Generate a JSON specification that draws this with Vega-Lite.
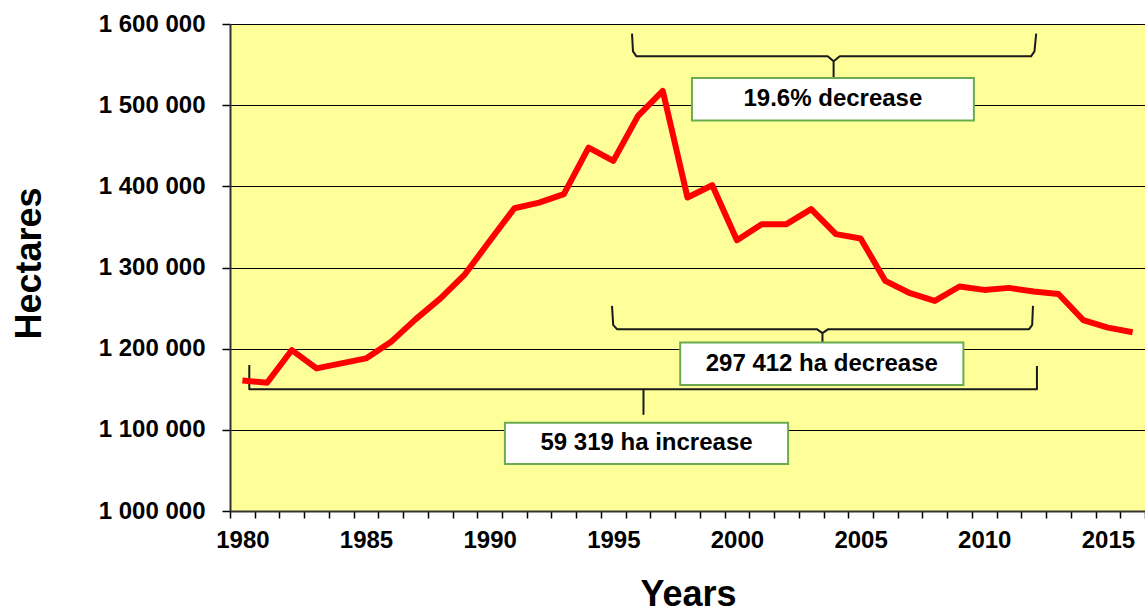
{
  "$schema": "https://vega.github.io/schema/vega-lite/v6.json",
  "width": 915,
  "height": 487,
  "autosize": {"type": "none"},
  "padding": {"left": 230, "top": 24, "right": 0, "bottom": 103},
  "background": "white",
  "config": {
    "font": "Liberation Sans",
    "view": {"fill": "#FFFF99", "stroke": null}
  },
  "datasets": {
    "area": [
      {"year": 1980, "hectares": 1160869},
      {"year": 1981, "hectares": 1158000},
      {"year": 1982, "hectares": 1198300},
      {"year": 1983, "hectares": 1175700},
      {"year": 1984, "hectares": 1181900},
      {"year": 1985, "hectares": 1188000},
      {"year": 1986, "hectares": 1208100},
      {"year": 1987, "hectares": 1236100},
      {"year": 1988, "hectares": 1261600},
      {"year": 1989, "hectares": 1291600},
      {"year": 1990, "hectares": 1332700},
      {"year": 1991, "hectares": 1373000},
      {"year": 1992, "hectares": 1380000},
      {"year": 1993, "hectares": 1390300},
      {"year": 1994, "hectares": 1447800},
      {"year": 1995, "hectares": 1431300},
      {"year": 1996, "hectares": 1486800},
      {"year": 1997, "hectares": 1517600},
      {"year": 1998, "hectares": 1386200},
      {"year": 1999, "hectares": 1401400},
      {"year": 2000, "hectares": 1333700},
      {"year": 2001, "hectares": 1353400},
      {"year": 2002, "hectares": 1353400},
      {"year": 2003, "hectares": 1371900},
      {"year": 2004, "hectares": 1341100},
      {"year": 2005, "hectares": 1335800},
      {"year": 2006, "hectares": 1283500},
      {"year": 2007, "hectares": 1268300},
      {"year": 2008, "hectares": 1258800},
      {"year": 2009, "hectares": 1276600},
      {"year": 2010, "hectares": 1272400},
      {"year": 2011, "hectares": 1274900},
      {"year": 2012, "hectares": 1270400},
      {"year": 2013, "hectares": 1267400},
      {"year": 2014, "hectares": 1235300},
      {"year": 2015, "hectares": 1225900},
      {"year": 2016, "hectares": 1220188}
    ],
    "brackets": [
      {"bracket": "peak", "step": 1, "year": 1995.756, "hectares": 1588141},
      {"bracket": "peak", "step": 2, "year": 1995.796, "hectares": 1566317},
      {"bracket": "peak", "step": 3, "year": 1995.937, "hectares": 1560152},
      {"bracket": "peak", "step": 4, "year": 2003.669, "hectares": 1560152},
      {"bracket": "peak", "step": 5, "year": 2003.908, "hectares": 1553987},
      {"bracket": "peak", "step": 6, "year": 2003.908, "hectares": 1533519},
      {"bracket": "peak", "step": 7, "year": 2003.908, "hectares": 1553987},
      {"bracket": "peak", "step": 8, "year": 2004.158, "hectares": 1560152},
      {"bracket": "peak", "step": 9, "year": 2011.89, "hectares": 1560152},
      {"bracket": "peak", "step": 10, "year": 2012.03, "hectares": 1566317},
      {"bracket": "peak", "step": 11, "year": 2012.1, "hectares": 1588141},
      {"bracket": "loss", "step": 1, "year": 1994.947, "hectares": 1252765},
      {"bracket": "loss", "step": 2, "year": 1994.995, "hectares": 1229338},
      {"bracket": "loss", "step": 3, "year": 1995.149, "hectares": 1224036},
      {"bracket": "loss", "step": 4, "year": 2003.228, "hectares": 1224036},
      {"bracket": "loss", "step": 5, "year": 2003.458, "hectares": 1219104},
      {"bracket": "loss", "step": 6, "year": 2003.458, "hectares": 1207514},
      {"bracket": "loss", "step": 7, "year": 2003.458, "hectares": 1219104},
      {"bracket": "loss", "step": 8, "year": 2003.693, "hectares": 1224036},
      {"bracket": "loss", "step": 9, "year": 2011.817, "hectares": 1224036},
      {"bracket": "loss", "step": 10, "year": 2011.938, "hectares": 1229338},
      {"bracket": "loss", "step": 11, "year": 2011.97, "hectares": 1252765},
      {"bracket": "gain", "step": 1, "year": 1980.28, "hectares": 1180018},
      {"bracket": "gain", "step": 2, "year": 1980.28, "hectares": 1150056},
      {"bracket": "gain", "step": 3, "year": 1996.22, "hectares": 1150056},
      {"bracket": "gain", "step": 4, "year": 1996.22, "hectares": 1119601},
      {"bracket": "gain", "step": 5, "year": 1996.22, "hectares": 1150056},
      {"bracket": "gain", "step": 6, "year": 2012.13, "hectares": 1150056},
      {"bracket": "gain", "step": 7, "year": 2012.13, "hectares": 1178785}
    ],
    "boxes": [
      {"label": "19.6% decrease", "year": 1998.18, "yearEnd": 2009.58, "hectares": 1533519, "hectaresEnd": 1481240},
      {"label": "297 412 ha decrease", "year": 1997.705, "yearEnd": 2009.156, "hectares": 1207514, "hectaresEnd": 1155358},
      {"label": "59 319 ha increase", "year": 1990.616, "yearEnd": 2002.068, "hectares": 1108874, "hectaresEnd": 1057951}
    ],
    "notes": [
      {"label": "19.6% decrease", "year": 2003.88, "hectares": 1507380},
      {"label": "297 412 ha decrease", "year": 2003.43, "hectares": 1181436},
      {"label": "59 319 ha increase", "year": 1996.342, "hectares": 1083412}
    ]
  },
  "encoding": {
    "x": {
      "field": "year",
      "type": "quantitative",
      "scale": {"domain": [1979.5, 2016.5], "nice": false, "zero": false},
      "axis": {
        "title": "Years",
        "titleFontSize": 36,
        "titleFontWeight": "bold",
        "titleColor": "black",
        "titleX": 458,
        "titleY": 94,
        "titleAlign": "center",
        "titleBaseline": "alphabetic",
        "values": [1979.5, 1980.5, 1981.5, 1982.5, 1983.5, 1984.5, 1985.5, 1986.5, 1987.5, 1988.5, 1989.5, 1990.5, 1991.5, 1992.5, 1993.5, 1994.5, 1995.5, 1996.5, 1997.5, 1998.5, 1999.5, 2000.5, 2001.5, 2002.5, 2003.5, 2004.5, 2005.5, 2006.5, 2007.5, 2008.5, 2009.5, 2010.5, 2011.5, 2012.5, 2013.5, 2014.5, 2015.5, 2016.5],
        "labelExpr": "(datum.value + 0.5) % 5 === 0 ? '' + (datum.value + 0.5) : ''",
        "labelOffset": 12.37,
        "labelFontSize": 24,
        "labelFontWeight": "bold",
        "labelColor": "black",
        "labelPadding": 10,
        "labelOverlap": false,
        "labelFlush": false,
        "labelBound": false,
        "tickSize": 7,
        "tickColor": "black",
        "tickWidth": 1.5,
        "domainColor": "#333333",
        "domainWidth": 2,
        "grid": false
      }
    },
    "y": {
      "field": "hectares",
      "type": "quantitative",
      "scale": {"domain": [1000000, 1600000], "nice": false, "zero": false},
      "axis": {
        "title": "Hectares",
        "titleFontSize": 36,
        "titleFontWeight": "bold",
        "titleColor": "black",
        "titleAngle": -90,
        "titleX": -190,
        "titleY": 239,
        "titleAlign": "center",
        "titleBaseline": "alphabetic",
        "values": [1000000, 1100000, 1200000, 1300000, 1400000, 1500000, 1600000],
        "labelExpr": "replace(replace(format(datum.value, ','), ',', ' '), ',', ' ')",
        "labelFontSize": 24,
        "labelFontWeight": "bold",
        "labelColor": "black",
        "labelPadding": 17,
        "labelBound": false,
        "tickSize": 8,
        "tickColor": "black",
        "tickWidth": 1.5,
        "domainColor": "#333333",
        "domainWidth": 2,
        "grid": true,
        "gridColor": "black",
        "gridWidth": 1,
        "gridOpacity": 1
      }
    }
  },
  "layer": [
    {
      "data": {"name": "brackets"},
      "mark": {"type": "line", "color": "#1a1a1a", "strokeWidth": 2, "strokeJoin": "round"},
      "encoding": {
        "detail": {"field": "bracket"},
        "order": {"field": "step", "type": "quantitative"}
      }
    },
    {
      "data": {"name": "boxes"},
      "mark": {"type": "rect", "fill": "white", "stroke": "#6AAB4F", "strokeWidth": 2},
      "encoding": {
        "x2": {"field": "yearEnd"},
        "y2": {"field": "hectaresEnd"}
      }
    },
    {
      "data": {"name": "notes"},
      "mark": {"type": "text", "fontSize": 24, "fontWeight": "bold", "color": "black", "align": "center", "baseline": "middle"},
      "encoding": {
        "text": {"field": "label"}
      }
    },
    {
      "data": {"name": "area"},
      "mark": {"type": "line", "color": "#FF0000", "strokeWidth": 6, "strokeJoin": "round"},
      "encoding": {}
    }
  ]
}
